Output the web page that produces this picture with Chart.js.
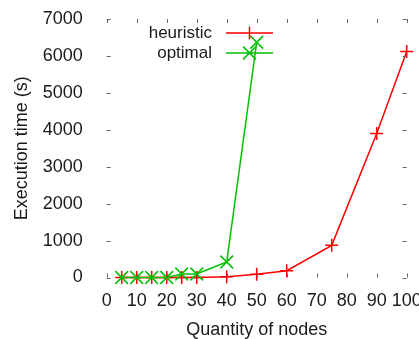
<!DOCTYPE html>
<html>
<head>
<meta charset="utf-8">
<script src="https://cdn.jsdelivr.net/npm/chart.js@4"></script>
<style>
  html, body { margin: 0; padding: 0; background: #fff; overflow: hidden; }
  #wrap { width: 419px; height: 339px; }
</style>
</head>
<body>
<div id="wrap"><canvas id="timeChart" width="419" height="339"></canvas></div>
<script>
// execution time vs. number of nodes
var nodesHeuristic = [5, 10, 15, 20, 25, 30, 40, 50, 60, 75, 90, 100];
var timeHeuristic = [0, 0, 0, 0, 0, 0, 20, 85, 185, 870, 3900, 6120];

var nodesOptimal = [5, 10, 15, 20, 25, 30, 40, 50];
var timeOptimal = [0, 0, 0, 0, 95, 95, 420, 6370];

var xTicks = [0, 10, 20, 30, 40, 50, 60, 70, 80, 90, 100];
var yTicks = [0, 1000, 2000, 3000, 4000, 5000, 6000, 7000];

function toPoints(xs, ys) {
  return xs.map(function (x, i) { return { x: x, y: ys[i] }; });
}

var FONT = "'Liberation Sans', Arial, sans-serif";
var TEXT = "#1a1a1a";

// small inward ticks on all four sides, gnuplot style
var mirrorTicks = {
  id: "mirrorTicks",
  afterDraw: function (chart) {
    var ctx = chart.ctx;
    var a = chart.chartArea;
    var len = 4;
    ctx.save();
    ctx.strokeStyle = "#666";
    ctx.lineWidth = 1;
    ctx.beginPath();
    chart.scales.x.ticks.forEach(function (t) {
      var px = Math.round(chart.scales.x.getPixelForValue(t.value)) + 0.5;
      ctx.moveTo(px, a.bottom);
      ctx.lineTo(px, a.bottom - len);
      ctx.moveTo(px, a.top);
      ctx.lineTo(px, a.top + len);
    });
    chart.scales.y.ticks.forEach(function (t) {
      var py = Math.round(chart.scales.y.getPixelForValue(t.value)) + 0.5;
      ctx.moveTo(a.left, py);
      ctx.lineTo(a.left + len, py);
      ctx.moveTo(a.right, py);
      ctx.lineTo(a.right - len, py);
    });
    ctx.stroke();
    ctx.restore();
  }
};

// key in the top of the plot: label, then line sample with its marker
var keyBox = {
  id: "keyBox",
  afterDatasetsDraw: function (chart) {
    var ctx = chart.ctx;
    ctx.save();
    ctx.font = "17px " + FONT;
    ctx.textAlign = "right";
    ctx.textBaseline = "middle";
    chart.data.datasets.forEach(function (ds, i) {
      var y = 33 + i * 20;
      var x0 = 226, x1 = 273, xm = (x0 + x1) / 2;
      ctx.fillStyle = TEXT;
      ctx.fillText(ds.label, 212, y);
      ctx.strokeStyle = ds.borderColor;
      ctx.lineWidth = ds.borderWidth;
      ctx.beginPath();
      ctx.moveTo(x0, y);
      ctx.lineTo(x1, y);
      var r = ds.pointRadius;
      if (ds.pointStyle === "cross") {
        ctx.moveTo(xm, y - r);
        ctx.lineTo(xm, y + r);
      } else {
        var d = r * Math.SQRT1_2;
        ctx.moveTo(xm - d, y - d);
        ctx.lineTo(xm + d, y + d);
        ctx.moveTo(xm - d, y + d);
        ctx.lineTo(xm + d, y - d);
      }
      ctx.stroke();
    });
    ctx.restore();
  }
};

function plainNumber(v) { return String(v); }

new Chart(document.getElementById("timeChart"), {
  type: "line",
  data: {
    datasets: [
      {
        label: "heuristic",
        data: toPoints(nodesHeuristic, timeHeuristic),
        borderColor: "#ff0000",
        backgroundColor: "#ff0000",
        borderWidth: 1.5,
        pointStyle: "cross",
        pointRadius: 6.5,
        pointBorderWidth: 1.5,
        tension: 0,
        clip: false,
        order: 1
      },
      {
        label: "optimal",
        data: toPoints(nodesOptimal, timeOptimal),
        borderColor: "#00c000",
        backgroundColor: "#00c000",
        borderWidth: 1.5,
        pointStyle: "crossRot",
        pointRadius: 9,
        pointBorderWidth: 1.5,
        tension: 0,
        clip: false,
        order: 0
      }
    ]
  },
  options: {
    responsive: false,
    animation: false,
    devicePixelRatio: 1,
    layout: { padding: { left: 0, right: 12.3, top: 19, bottom: 0 } },
    plugins: {
      legend: { display: false },
      tooltip: { enabled: false }
    },
    scales: {
      x: {
        type: "linear",
        min: 0,
        max: 100,
        afterBuildTicks: function (s) { s.ticks = xTicks.map(function (v) { return { value: v }; }); },
        afterFit: function (s) {
          s.height = 61.5;
          s.paddingLeft = 0;
          s.paddingRight = 0;
        },
        grid: { display: false },
        border: { display: false },
        ticks: {
          autoSkip: false,
          maxRotation: 0,
          padding: 5,
          color: TEXT,
          font: { family: FONT, size: 18 },
          callback: plainNumber
        },
        title: {
          display: true,
          text: "Quantity of nodes",
          color: TEXT,
          font: { family: FONT, size: 18, lineHeight: 1 },
          padding: { top: 0, bottom: 0 }
        }
      },
      y: {
        min: 0,
        max: 7000,
        afterBuildTicks: function (s) { s.ticks = yTicks.map(function (v) { return { value: v }; }); },
        afterFit: function (s) {
          s.width = 106.7;
          s.paddingTop = 0;
          s.paddingBottom = 0;
        },
        grid: { display: false },
        border: { display: false },
        ticks: {
          padding: 16,
          color: TEXT,
          font: { family: FONT, size: 18 },
          callback: plainNumber
        },
        title: {
          display: true,
          text: "Execution time (s)",
          color: TEXT,
          font: { family: FONT, size: 18, lineHeight: 1.2 },
          padding: { top: 11, bottom: 0 }
        }
      }
    }
  },
  plugins: [mirrorTicks, keyBox]
});
</script>
</body>
</html>
